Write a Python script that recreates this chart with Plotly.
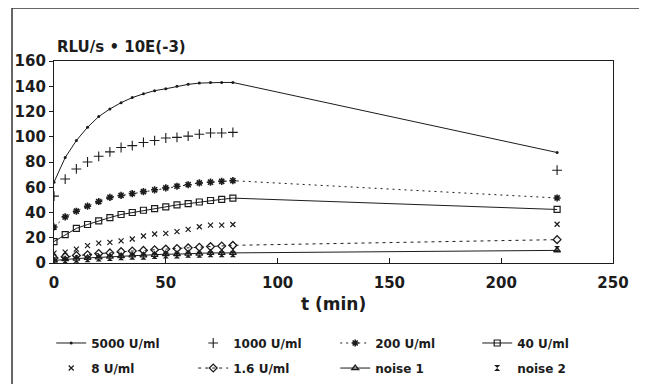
import plotly.graph_objects as go

t = [0, 5, 10, 15, 20, 25, 30, 35, 40, 45, 50, 55, 60, 65, 70, 75, 80, 225]

u5000 = [64, 83.5, 97, 107.5, 116, 122, 127, 131, 134, 136.5, 138, 140, 141.5, 142.5, 143, 143, 143, 87.5]
u1000 = [53, 66.5, 74.5, 80, 84.5, 88, 91.5, 93, 95.5, 97, 99, 99.5, 100.5, 102, 103, 103, 103.5, 73.5]
u200 = [28.5, 36.5, 41, 45, 48.7, 52, 53.5, 55, 56.5, 58, 59.5, 60.8, 62, 63.4, 64, 64.7, 65.2, 51.5]
u40 = [17, 22.5, 27.4, 30.5, 33.4, 36, 38.4, 40, 41.8, 43, 44.4, 46, 47, 48.3, 49.5, 50.4, 51.4, 42.4]
u8 = [7.8, 8.6, 11, 13.8, 15.7, 16.4, 17.5, 19, 21.4, 23, 23.5, 24.8, 26.6, 28.7, 30, 30, 30.5, 30.7]
u1_6 = [4, 5, 6, 6.5, 7.5, 8, 9, 9.5, 10, 10.5, 11, 11.5, 12, 12.5, 13, 13.5, 14, 18.5]
noise1 = [2, 3, 3.5, 4, 4.5, 5, 5.5, 6, 6, 6.5, 7, 7, 7.5, 7.5, 8, 8, 8, 10]
noise2 = [1, 2, 2.5, 3, 3.5, 4, 4.5, 5, 5, 5.5, 6, 6, 6.5, 6.5, 7, 7, 7, 11]

x_ticks = [0, 50, 100, 150, 200, 250]
y_ticks = [0, 20, 40, 60, 80, 100, 120, 140, 160]

INK = "#1c1c1c"
FONT = "DejaVu Sans"

series = [
    ("5000 U/ml", u5000, "lines+markers", dict(symbol="circle", size=3, color=INK), dict(color=INK, width=1), "legend"),
    ("1000 U/ml", u1000, "markers", dict(symbol="cross-thin-open", size=7, color=INK, line=dict(color=INK, width=1.1)), None, "legend"),
    ("200 U/ml", u200, "lines+markers", dict(symbol="asterisk-open", size=6, color=INK, line=dict(color=INK, width=1.6)), dict(color=INK, width=1, dash="2px,4px"), "legend"),
    ("40 U/ml", u40, "lines+markers", dict(symbol="square-open", size=6, color=INK, line=dict(color=INK, width=1.2)), dict(color=INK, width=1), "legend"),
    ("8 U/ml", u8, "markers", dict(symbol="x-thin-open", size=5, color=INK, line=dict(color=INK, width=1.2)), None, "legend2"),
    ("1.6 U/ml", u1_6, "lines+markers", dict(symbol="diamond-open", size=6, color=INK, line=dict(color=INK, width=1.3)), dict(color=INK, width=1, dash="3px,4px"), "legend2"),
    ("noise 1", noise1, "lines+markers", dict(symbol="triangle-up-open", size=6, color=INK, line=dict(color=INK, width=1.3)), dict(color=INK, width=1), "legend2"),
    ("noise 2", noise2, "markers", dict(symbol="hourglass", size=6, color=INK), None, "legend2"),
]

fig = go.Figure()
for name, vals, mode, marker, line, lg in series:
    kw = dict(x=t, y=vals, mode=mode, name=name, marker=marker, legend=lg)
    if line is not None:
        kw["line"] = line
    fig.add_trace(go.Scatter(**kw))

legend_common = dict(orientation="h", x=-0.005, xanchor="left", yanchor="middle",
                     entrywidth=97, entrywidthmode="pixels", itemwidth=30,
                     font=dict(family=FONT, size=12, weight="bold", color=INK),
                     bgcolor="rgba(0,0,0,0)")

# page body has an 8px margin, so the figure is sized to fit inside the window
fig.update_layout(
    width=631, height=376,
    margin=dict(l=46, r=26, t=53, b=121, autoexpand=False),
    paper_bgcolor="white", plot_bgcolor="white",
    font=dict(family=FONT, color=INK, size=12, weight="bold"),
    showlegend=True,
    legend=dict(y=-0.396, **legend_common),
    legend2=dict(y=-0.52, **legend_common),
    xaxis=dict(range=[0, 250], tickvals=x_ticks, ticks="inside", ticklen=5, tickwidth=1,
               tickcolor=INK, showline=True, linecolor=INK, linewidth=1.3, mirror=True,
               showgrid=False, zeroline=False, automargin=False, ticklabelstandoff=6,
               tickfont=dict(family=FONT, size=15, weight="bold", color=INK)),
    yaxis=dict(range=[0, 160], tickvals=y_ticks, ticks="outside", ticklen=4, tickwidth=1,
               tickcolor=INK, showline=True, linecolor=INK, linewidth=1.3, mirror=True,
               showgrid=False, zeroline=False, automargin=False,
               tickfont=dict(family=FONT, size=15, weight="bold", color=INK)),
    annotations=[
        dict(text="RLU/s • 10E(-3)", xref="paper", yref="paper", x=0.002, y=1.015,
             xanchor="left", yanchor="bottom", showarrow=False,
             font=dict(family=FONT, size=15, weight="bold", color=INK)),
        dict(text="t (min)", xref="paper", yref="paper", x=0.5, y=-0.205,
             xanchor="center", yanchor="middle", showarrow=False,
             font=dict(family=FONT, size=17, weight="bold", color=INK)),
    ],
    shapes=[
        dict(type="line", xref="paper", yref="paper", x0=-0.0751, x1=1.1, y0=1.262, y1=1.262,
             line=dict(color="#333", width=1.5)),
        dict(type="line", xref="paper", yref="paper", x0=-0.0751, x1=-0.0751, y0=-0.7, y1=1.262,
             line=dict(color="#333", width=1.5)),
    ],
)

fig.write_html("out.html")
